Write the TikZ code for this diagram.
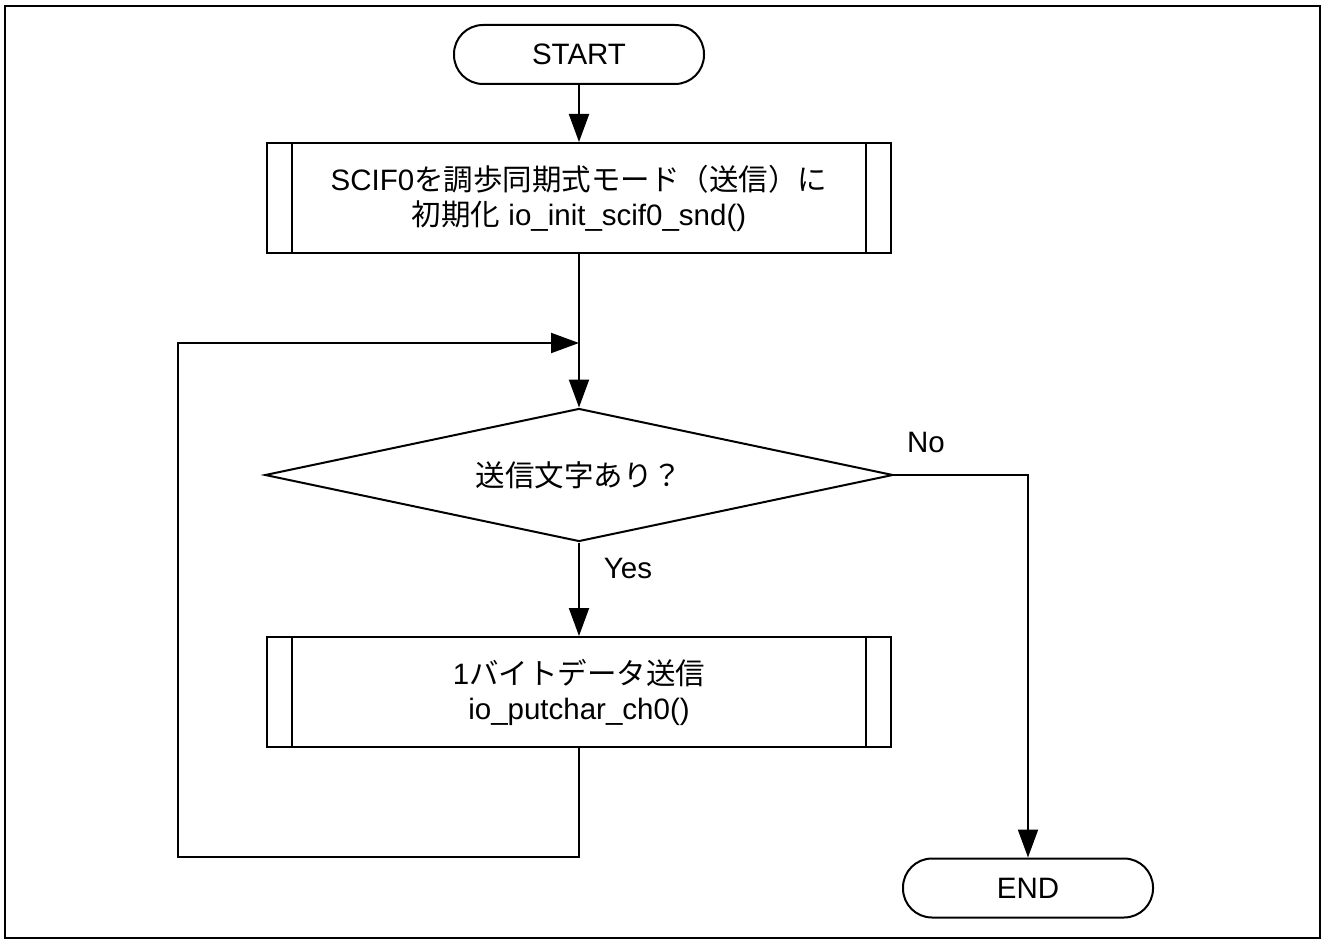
\documentclass[tikz,border=0pt]{standalone}
\usepackage{fontspec}
\setmainfont{Liberation Sans}
\newfontfamily\jp{Noto Sans CJK JP}
\usetikzlibrary{shapes.geometric,arrows.meta}
\begin{document}
\begin{tikzpicture}[x=1pt,y=-1pt, line width=2pt, font=\fontsize{29.5}{35}\selectfont,
 term/.style={draw, rounded corners=29pt, minimum width=250pt, minimum height=59pt, inner sep=0pt},
 proc/.style={draw, minimum width=624pt, minimum height=110pt, align=center, inner sep=0pt},
 dec/.style={draw, diamond, aspect=4.72, minimum width=628pt, minimum height=133pt, inner sep=0pt},
 arr/.style={-{Triangle[length=28pt,width=20pt]}},
 lbl/.style={inner sep=0pt}]
\useasboundingbox (0,0) rectangle (1325,941);
\draw (5,6) rectangle (1320,938);
\node[term] (start) at (579,54.5) {START};
\node[proc] (b1) at (579,198) {SCIF0{\jp を調歩同期式モード（送信）に}\\{\jp 初期化} io\_init\_scif0\_snd()};
\draw ([xshift=26pt]b1.north west) -- ([xshift=26pt]b1.south west);
\draw ([xshift=-26pt]b1.north east) -- ([xshift=-26pt]b1.south east);
\coordinate (j) at (579,343);
\node[dec] (d) at (579,475) {{\jp 送信文字あり？}};
\node[proc] (b2) at (579,692) {1{\jp バイトデータ送信}\\io\_putchar\_ch0()};
\draw ([xshift=26pt]b2.north west) -- ([xshift=26pt]b2.south west);
\draw ([xshift=-26pt]b2.north east) -- ([xshift=-26pt]b2.south east);
\node[term] (end) at (1028,888) {END};
\node[lbl] (no) at (926,442) {No};
\node[lbl] (yes) at (628,568) {Yes};
\coordinate (lb) at (178,857);
\coordinate (lt) at (178,343);
\draw[arr] (start) -- (b1);
\draw[arr] (b1.south) -- (d.north);
\draw[arr] (b2.south) -- (b2.south |- lb) -- (lb) -- (lt) -- (j);
\draw[arr] (d.south) -- (b2.north);
\draw[arr] (d.east) -| (end.north);
\end{tikzpicture}
\end{document}
